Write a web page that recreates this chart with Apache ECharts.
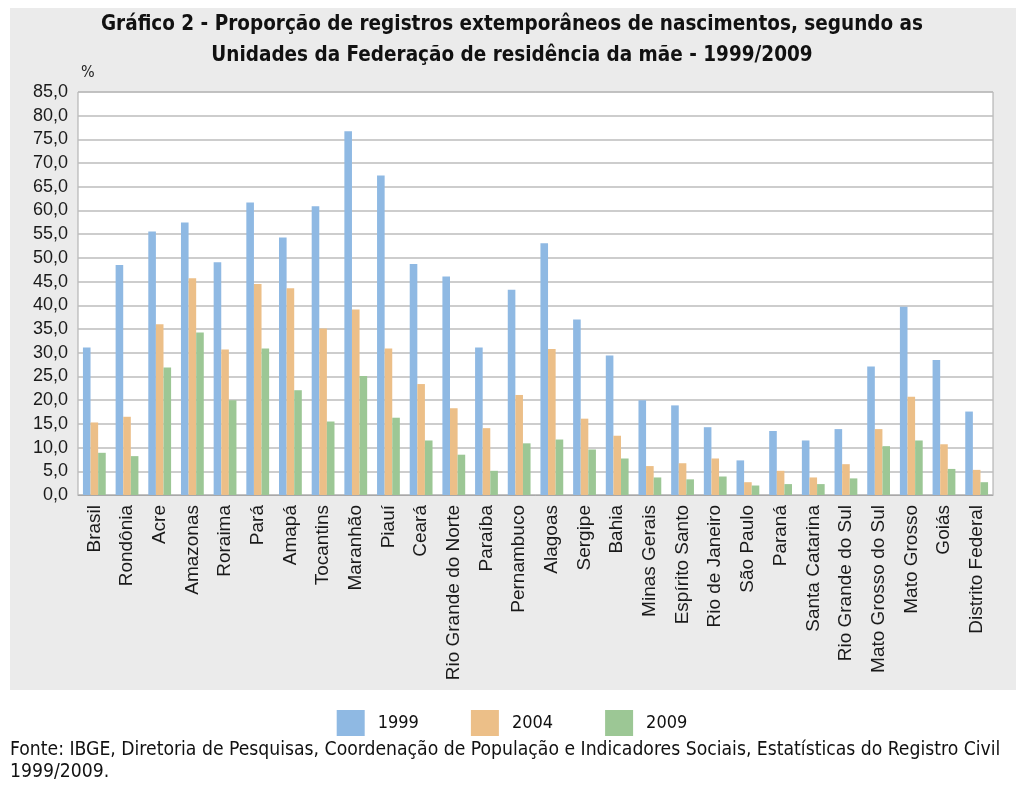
<!DOCTYPE html>
<html><head><meta charset="utf-8">
<script src="https://cdn.jsdelivr.net/npm/echarts@6/dist/echarts.min.js"></script>
<style>html,body{margin:0;padding:0;background:#fff}#c{width:1024px;height:790px}</style>
</head><body><div id="c"></div>
<script>
const categories = ["Brasil","Rondônia","Acre","Amazonas","Roraima","Pará","Amapá","Tocantins","Maranhão","Piauí","Ceará","Rio Grande do Norte","Paraíba","Pernambuco","Alagoas","Sergipe","Bahia","Minas Gerais","Espírito Santo","Rio de Janeiro","São Paulo","Paraná","Santa Catarina","Rio Grande do Sul","Mato Grosso do Sul","Mato Grosso","Goiás","Distrito Federal"];
const v1999 = [31.1,48.5,55.6,57.5,49.1,61.7,54.3,60.9,76.7,67.4,48.7,46.1,31.1,43.3,53.1,37.0,29.4,20.0,18.9,14.3,7.3,13.5,11.5,13.9,27.1,39.7,28.5,17.6];
const v2004 = [15.3,16.5,36.0,45.7,30.7,44.5,43.6,35.1,39.1,30.9,23.4,18.3,14.1,21.1,30.8,16.1,12.5,6.1,6.7,7.7,2.7,5.1,3.7,6.5,13.9,20.7,10.7,5.3];
const v2009 = [8.9,8.2,26.9,34.3,20.0,30.9,22.1,15.5,25.1,16.3,11.5,8.5,5.1,10.9,11.7,9.6,7.7,3.7,3.3,3.9,2.0,2.3,2.3,3.5,10.3,11.5,5.5,2.7];
const seriesNames = ["1999","2004","2009"];
const colors = ["#8fb9e3","#ecbf88","#9cc795"];
const titleLines = ["Gráfico 2 - Proporção de registros extemporâneos de nascimentos, segundo as","Unidades da Federação de residência da mãe - 1999/2009"];
const sourceLines = ["Fonte: IBGE, Diretoria de Pesquisas, Coordenação de População e Indicadores Sociais, Estatísticas do Registro Civil","1999/2009."];
const yUnit = "%";

const narrow = '"Liberation Sans Narrow","DejaVu Sans Condensed","Arial Narrow",sans-serif';
const sans = '"Liberation Sans",Arial,sans-serif';
const chart = echarts.init(document.getElementById('c'), null, {renderer:'canvas'});
const data = [v1999, v2004, v2009];
chart.setOption({
  backgroundColor:'#ffffff',
  animation:false,
  graphic:[
    {type:'rect', z:-10, shape:{x:10,y:8,width:1006,height:682}, style:{fill:'#ebebeb'}},
    {type:'text', left:'center', top:14, style:{text:titleLines[0], font:'bold 20.5px '+narrow, fill:'#111'}},
    {type:'text', left:'center', top:45, style:{text:titleLines[1], font:'bold 20.5px '+narrow, fill:'#111'}},
    {type:'text', left:81, top:65, style:{text:yUnit, font:'16px '+narrow, fill:'#222'}},
    {type:'text', left:10, top:741, style:{text:sourceLines[0], font:'19.2px '+narrow, fill:'#111'}},
    {type:'text', left:10, top:763, style:{text:sourceLines[1], font:'19.2px '+narrow, fill:'#111'}}
  ],
  legend:{
    data:seriesNames, left:'center', top:705, itemWidth:28, itemHeight:26, itemGap:52,
    icon:'rect',
    textStyle:{fontFamily:narrow, fontSize:18, color:'#111', padding:[0,0,0,8]}
  },
  grid:{left:78, right:31, top:92, bottom:295, show:true, backgroundColor:'#ffffff', borderColor:'#a8a8a8', borderWidth:1},
  xAxis:{
    type:'category', data:categories,
    axisLine:{show:true, lineStyle:{color:'#a8a8a8'}},
    axisTick:{show:false},
    axisLabel:{rotate:90, interval:0, fontFamily:sans, fontSize:19, color:'#1a1a1a', margin:10}
  },
  yAxis:{
    type:'value', min:0, max:85, interval:5,
    axisLine:{show:false}, axisTick:{show:false},
    splitLine:{lineStyle:{color:'#bdbdbd', width:1.5}},
    axisLabel:{fontFamily:sans, fontSize:18, color:'#1a1a1a', margin:10,
      formatter:v=>v.toFixed(1).replace('.',',')}
  },
  series: seriesNames.map((n,i)=>({
    name:n, type:'bar', data:data[i], barWidth:7.6, barGap:'0%',
    itemStyle:{color:colors[i]}
  }))
});
</script></body></html>
